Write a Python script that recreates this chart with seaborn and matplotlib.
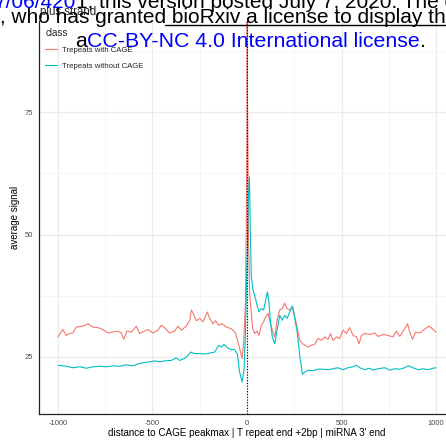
import numpy as np
import pandas as pd
import matplotlib
matplotlib.use("Agg")
import matplotlib.pyplot as plt
from matplotlib.lines import Line2D
import seaborn as sns

# ---------------- data ----------------
red_pos = [-1000, -974, -956, -938, -921, -903, -868, -841, -815, -788, -762, -735,
           -709, -683, -665, -652, -635, -612, -585, -568, -541, -524, -497, -471,
           -453, -436, -410, -383, -365, -347, -321, -303, -294, -280, -268, -250,
           -233, -224, -210, -197, -180, -167, -150, -132, -109, -86, -74, -61, -48,
           -26, -18, -8, -3, 0, 1, 2, 8, 14, 20, 30, 41, 53, 63, 76, 88, 99, 111,
           124, 134, 147, 159, 173, 187, 199, 212, 226, 240, 252, 265, 279, 293,
           305, 323, 341, 358, 376, 394, 411, 429, 441, 455, 473, 490, 508, 526,
           543, 561, 579, 593, 605, 623, 649, 676, 693, 720, 746, 772, 790, 808,
           831, 849, 861, 875, 891, 914, 937, 961, 979, 1000]
red_val = [29.1, 30.6, 29.4, 29.8, 29.9, 31.1, 31.3, 31.8, 31.1, 31.0, 30.6, 29.9,
           30.1, 30.3, 29.9, 28.6, 30.3, 30.1, 31.3, 29.8, 30.3, 30.6, 29.9, 30.5,
           31.5, 31.0, 29.9, 30.3, 31.3, 30.5, 31.3, 32.5, 34.6, 33.5, 32.4, 32.9,
           32.2, 32.9, 34.2, 32.9, 31.8, 32.4, 31.5, 31.8, 31.1, 30.8, 30.5, 29.9,
           28.1, 24.7, 27.7, 36.0, 55.0, 79.6, 120.0, 79.6, 50.0, 38.0, 35.2, 30.8,
           29.8, 30.3, 29.4, 31.5, 32.2, 33.2, 33.9, 31.8, 30.5, 29.1, 32.5, 34.6,
           34.9, 36.0, 34.9, 34.6, 35.3, 33.3, 31.1, 28.4, 27.7, 27.5, 27.0, 27.4,
           27.6, 28.8, 28.4, 29.1, 28.6, 29.8, 28.4, 29.1, 28.8, 30.5, 29.8, 31.0,
           29.4, 29.1, 27.7, 29.4, 29.8, 29.6, 29.9, 29.2, 29.6, 29.4, 29.1, 30.3,
           29.2, 30.6, 31.8, 30.1, 28.6, 30.1, 29.9, 30.6, 31.3, 30.8, 30.1]

cyan_pos = [-1000, -956, -921, -885, -850, -815, -779, -744, -709, -674, -638, -603,
            -577, -550, -515, -488, -462, -436, -400, -374, -356, -330, -312, -298,
            -277, -250, -224, -197, -171, -150, -135, -122, -104, -83, -65, -51, -39,
            -26, -16, -8, 0, 8, 13, 18, 23, 32, 41, 53, 63, 76, 88, 99, 108, 116,
            125, 134, 147, 159, 173, 187, 199, 212, 226, 240, 252, 265, 279, 293,
            305, 323, 349, 376, 402, 429, 455, 481, 508, 534, 561, 579, 596, 623,
            646, 667, 693, 729, 755, 781, 808, 834, 852, 878, 905, 931, 958, 984, 1000]
cyan_val = [23.3, 23.1, 22.8, 23.0, 22.7, 23.0, 23.1, 23.0, 23.2, 23.1, 23.4, 23.2,
            23.6, 23.8, 24.0, 24.2, 24.0, 24.2, 24.3, 24.8, 24.3, 24.7, 25.3, 26.0,
            25.7, 25.7, 25.6, 25.8, 26.0, 27.4, 27.0, 27.6, 26.9, 26.5, 26.5, 25.6,
            21.9, 19.9, 22.3, 30.0, 45.0, 58.0, 61.8, 50.0, 41.4, 38.6, 37.6, 35.6,
            34.2, 34.9, 34.6, 36.6, 38.3, 36.2, 31.8, 29.1, 27.7, 30.5, 33.5, 32.5,
            33.5, 32.9, 34.2, 35.4, 33.0, 30.2, 25.3, 21.5, 21.9, 22.3, 22.2, 22.5,
            22.5, 22.4, 22.6, 22.8, 22.4, 22.8, 23.0, 23.3, 22.8, 22.4, 22.7, 22.3,
            22.6, 22.8, 22.3, 22.6, 22.5, 22.8, 23.2, 22.8, 22.4, 22.6, 22.4, 22.7, 22.8]

classes = ["Trepeats with CAGE", "Trepeats without CAGE"]
colors = ["#F8766D", "#00BFC4"]
x_ticks = [-1000, -500, 0, 500, 1000]
x_ticklabels = ["-1000", "-500", "0", "500", "1000"]
y_ticks = [25, 50, 75]
y_ticklabels = ["25", "50", "75"]

df = pd.concat([
    pd.DataFrame({"pos": red_pos, "signal": red_val, "class": classes[0]}),
    pd.DataFrame({"pos": cyan_pos, "signal": cyan_val, "class": classes[1]}),
], ignore_index=True)

# ---------------- figure ----------------
sns.set_style("white")
plt.rcParams["font.family"] = ["Liberation Sans", "DejaVu Sans"]

W, H = 446, 445
fig = plt.figure(figsize=(W / 100, H / 100), dpi=100)

def fx(p):
    return p / W

def fy(p):
    return 1 - p / H

ax = fig.add_axes([fx(39), fy(414), (455 - 39) / W, (414 - 21) / H])

sns.lineplot(data=df, x="pos", y="signal", hue="class", hue_order=classes,
             palette=colors, linewidth=0.8, estimator=None, ax=ax, legend=False,
             zorder=3)
ax.axvline(0, color="black", linestyle=(0, (1, 1.5)), linewidth=0.8, zorder=4)

ax.set_xlim(-1100, 1100)
ax.set_ylim(13.35, 93.65)
ax.set_xticks(x_ticks)
ax.set_xticklabels(x_ticklabels)
ax.set_yticks(y_ticks)
ax.set_yticklabels(y_ticklabels)
ax.set_xticks([-750, -250, 250, 750], minor=True)
ax.set_yticks([37.5, 62.5, 87.5], minor=True)
ax.grid(True, which="major", color="#EBEBEB", linewidth=0.9, zorder=0)
ax.grid(True, which="minor", color="#F2F2F2", linewidth=0.5, zorder=0)
ax.set_axisbelow(True)
for s in ["top", "right"]:
    ax.spines[s].set_visible(False)
for s in ["left", "bottom"]:
    ax.spines[s].set_color("#222222")
    ax.spines[s].set_linewidth(0.9)
ax.tick_params(axis="both", which="major", length=2.5, width=0.6, color="#333333",
               labelsize=5.5, labelcolor="#4D4D4D", direction="out")
ax.tick_params(axis="x", which="major", pad=1.5)
ax.tick_params(axis="y", which="major", pad=1.5)
ax.tick_params(which="minor", length=0)

ax.set_xlabel("distance to CAGE peakmax | T repeat end +2bp | miRNA 3' end",
              fontsize=7.1, color="black", va="center")
ax.xaxis.set_label_coords(0.5, (414 - 433) / 393)
ax.set_ylabel("average signal", fontsize=7.0, color="black", va="center")
ax.yaxis.set_label_coords((15 - 39) / 416, 0.5)

# legend
handles = [Line2D([0], [0], color=c, lw=0.8) for c in colors]
leg = ax.legend(handles, classes, title="class", loc="upper left",
                bbox_to_anchor=(fx(40), fy(23)), bbox_transform=fig.transFigure,
                frameon=False, fontsize=5.6, title_fontsize=7.0,
                handlelength=1.45, handletextpad=0.65, labelspacing=1.05,
                borderpad=0.2, alignment="left")

fig.text(fx(40), fy(12), "plus strand", fontsize=8.3, va="center", ha="left")

# bioRxiv overlay text
fig.text(fx(76), fy(8), "7/06/420", fontsize=15, color="blue", ha="right",
         va="baseline", zorder=10)
fig.text(fx(76), fy(8), "1; this version posted July 7, 2020. The copyright holder",
         fontsize=15, color="black", ha="left", va="baseline", zorder=10)
fig.text(fx(0), fy(23), ", who has granted bioRxiv a license to display the preprint in perpetuity.",
         fontsize=15, color="black", ha="left", va="baseline", zorder=10)
fig.add_artist(Line2D([fx(165), fx(446)], [fy(25), fy(25)], color="black", lw=1.0))
t1 = fig.text(fx(75), fy(47), "a", fontsize=15.3, color="black", ha="left",
              va="baseline", zorder=10)
fig.canvas.draw()
r = fig.canvas.get_renderer()
bb = t1.get_window_extent(r)
t2 = fig.text(bb.x1 / W, fy(47), "CC-BY-NC 4.0 International license", fontsize=15.3,
              color="blue", ha="left", va="baseline", zorder=10)
bb2 = t2.get_window_extent(r)
fig.text(bb2.x1 / W, fy(47), ".", fontsize=15.3, color="black", ha="left",
         va="baseline", zorder=10)

fig.savefig("out.png", dpi=100)
